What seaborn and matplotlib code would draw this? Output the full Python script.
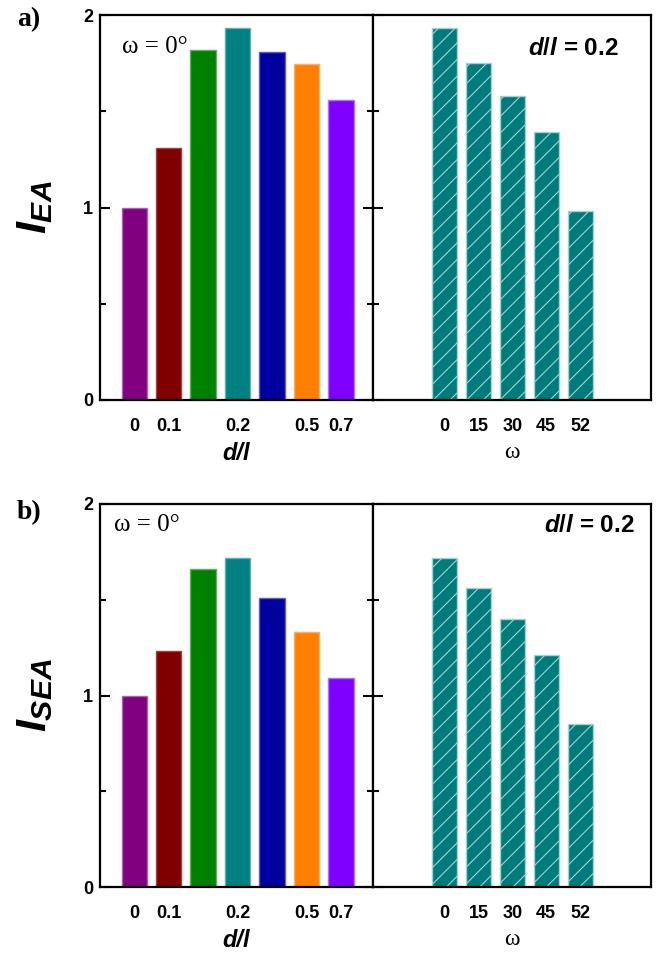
import matplotlib
matplotlib.use("Agg")
import matplotlib.pyplot as plt
import seaborn as sns
import pandas as pd
from matplotlib.ticker import MultipleLocator

# ---- data ----
dl_categories = ["0", "0.1", "0.15", "0.2", "0.3", "0.5", "0.7"]
dl_ticklabels = ["0", "0.1", "", "0.2", "", "0.5", "0.7"]
iea_dl = [1.00, 1.31, 1.82, 1.93, 1.81, 1.745, 1.56]
isea_dl = [1.00, 1.23, 1.66, 1.72, 1.51, 1.33, 1.09]

omega_categories = ["0", "15", "30", "45", "52"]
iea_omega = [1.93, 1.75, 1.58, 1.39, 0.98]
isea_omega = [1.72, 1.56, 1.40, 1.21, 0.85]

y_ticks = [0, 1, 2]
y_ticklabels = ["0", "1", "2"]

bar_colors = ["#800080", "#800000", "#008000", "#008080", "#00009F", "#FF8000", "#8000FF"]
edge_colors = ["#b060b0", "#a04040", "#60b060", "#60b0b0", "#6060c0", "#ffb060", "#b070ff"]

sns.set_style("white")
plt.rcParams["font.family"] = ["Liberation Sans", "DejaVu Sans"]
plt.rcParams["text.color"] = "black"
plt.rcParams["axes.labelcolor"] = "black"
plt.rcParams["xtick.color"] = "black"
plt.rcParams["ytick.color"] = "black"
plt.rcParams["mathtext.fontset"] = "custom"
plt.rcParams["mathtext.it"] = "Liberation Sans:italic:bold"
plt.rcParams["mathtext.rm"] = "Liberation Sans:bold"
plt.rcParams["hatch.linewidth"] = 0.8

W, H = 661, 958
fig = plt.figure(figsize=(W / 100, H / 100), dpi=100)


def fx(px):
    return px / W


def fy(px):
    return 1 - px / H


def make_panel(top, bottom, vals_dl, vals_om, ylabel):
    h = (bottom - top) / H
    axL = fig.add_axes([fx(100), fy(bottom), fx(273), h])
    axR = fig.add_axes([fx(373), fy(bottom), fx(278), h])

    dfL = pd.DataFrame({"cat": dl_categories, "val": vals_dl})
    sns.barplot(data=dfL, x="cat", y="val", hue="cat", palette=bar_colors,
                legend=False, width=0.73, ax=axL, saturation=1)
    for p, ec in zip(axL.patches, edge_colors):
        p.set_edgecolor(ec)
        p.set_linewidth(1.0)

    dfR = pd.DataFrame({"cat": omega_categories, "val": vals_om})
    sns.barplot(data=dfR, x="cat", y="val", color="#007B7B", width=0.74,
                ax=axR, saturation=1)
    for p in axR.patches:
        p.set_facecolor("#007B7B")
        p.set_edgecolor("#9fd3d3")
        p.set_hatch("//")
        p.set_linewidth(1.0)

    for ax in (axL, axR):
        ax.set_ylim(0, 2)
        ax.set_yticks(y_ticks)
        ax.yaxis.set_minor_locator(MultipleLocator(0.5))
        for s in ax.spines.values():
            s.set_visible(True)
            s.set_color("black")
            s.set_linewidth(1.6)
        ax.tick_params(axis="x", length=0, pad=13, labelsize=13, colors="black")
        ax.set_ylabel("")

    axL.set_xlim(-0.99, 6.93)
    axR.set_xlim(-2.11, 6.09)

    axL.set_xticks(range(len(dl_categories)))
    axL.set_xticklabels(dl_ticklabels, fontweight="bold", fontsize=13)
    axL.set_yticklabels(y_ticklabels, fontweight="bold", fontsize=13)
    axL.tick_params(axis="y", which="both", direction="in", left=True, right=True,
                    pad=5, colors="black")
    axL.tick_params(axis="y", which="major", length=7, width=1.5)
    axL.tick_params(axis="y", which="minor", length=4, width=1.5)

    axR.tick_params(axis="y", which="both", direction="in", left=True, right=False,
                    labelleft=False, colors="black")
    axR.tick_params(axis="y", which="major", length=7, width=1.5)
    axR.tick_params(axis="y", which="minor", length=4, width=1.5)
    axR.set_xticks(range(len(omega_categories)))
    axR.set_xticklabels(omega_categories, fontweight="bold", fontsize=13)

    axL.set_xlabel("d/l", fontsize=17, fontweight="bold", fontstyle="italic",
                   labelpad=5)
    axR.set_xlabel("ω", fontsize=17, family="Liberation Serif", labelpad=5)
    axL.set_ylabel(ylabel, fontsize=31, labelpad=20)
    return axL, axR


# panel a
aL, aR = make_panel(15, 400, iea_dl, iea_omega, r"$I_{EA}$")
aL.text(0.08, 0.917, "ω = 0°", transform=aL.transAxes, fontsize=18,
        family="Liberation Serif", va="center", ha="left")
aR.text(0.885, 0.914, "$d/l$ = 0.2", transform=aR.transAxes, fontsize=17.5,
        fontweight="bold", va="center", ha="right")
fig.text(fx(17), fy(20), "a)", fontsize=20, fontweight="bold",
         family="Liberation Serif", va="center", ha="left")

# panel b
bL, bR = make_panel(504, 887, isea_dl, isea_omega, r"$I_{SEA}$")
bL.text(0.05, 0.945, "ω = 0°", transform=bL.transAxes, fontsize=18,
        family="Liberation Serif", va="center", ha="left")
bR.text(0.942, 0.943, "$d/l$ = 0.2", transform=bR.transAxes, fontsize=17.5,
        fontweight="bold", va="center", ha="right")
fig.text(fx(17), fy(513), "b)", fontsize=20, fontweight="bold",
         family="Liberation Serif", va="center", ha="left")

fig.savefig("out.png", dpi=100)
